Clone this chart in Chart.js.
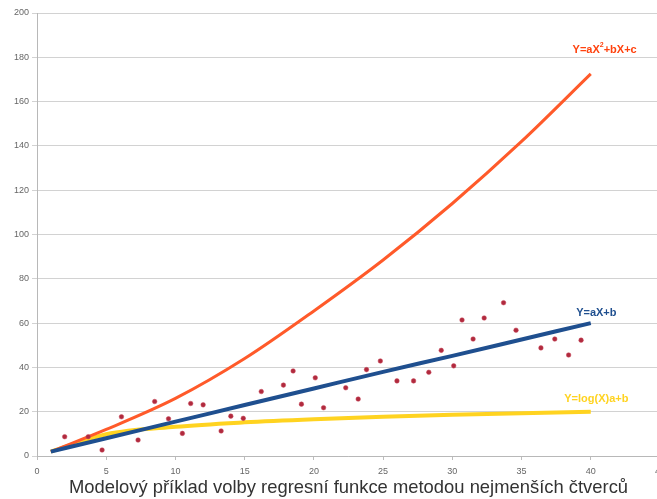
<!DOCTYPE html>
<html>
<head>
<meta charset="utf-8">
<script src="https://cdn.jsdelivr.net/npm/chart.js@4.4.1/dist/chart.umd.min.js"></script>
<style>
  html, body { margin: 0; padding: 0; background: #ffffff; overflow: hidden; }
  #wrap { width: 671px; height: 499px; }
</style>
</head>
<body>
<div id="wrap"><canvas id="c" width="671" height="499"></canvas></div>
<script>
// ---- data ----
const curveX = [1, 5, 10, 15, 20, 25, 30, 35, 40];
const quadY  = [2, 12, 26, 44, 65.5, 88.5, 114, 142, 172.5];   // Y=aX^2+bX+c (orange)
const linY   = [2, 8, 15.5, 23, 30.5, 38, 45.2, 52.6, 60];       // Y=aX+b (blue)
const logY   = [2, 9.8, 13.2, 15.2, 16.6, 17.7, 18.6, 19.3, 20];  // Y=log(X)a+b (yellow)

const pointsX = [2.0, 3.7, 4.7, 6.1, 7.3, 8.5, 9.5, 10.5, 11.1, 12.0, 13.3, 14.0, 14.9,
                 16.2, 17.8, 18.5, 19.1, 20.1, 20.7, 22.3, 23.2, 23.8, 24.8, 26.0, 27.2,
                 28.3, 29.2, 30.1, 30.7, 31.5, 32.3, 33.7, 34.6, 36.4, 37.4, 38.4, 39.3];
const pointsY = [8.7, 8.7, 2.7, 17.7, 7.2, 24.6, 16.8, 10.2, 23.7, 23.1, 11.3, 18, 17,
                 29.1, 32, 38.4, 23.4, 35.3, 21.8, 30.8, 25.7, 39, 42.9, 33.9, 33.9,
                 37.8, 47.7, 40.7, 61.4, 52.8, 62.3, 69.2, 56.8, 48.8, 52.8, 45.6, 52.3];

const xTickStep = 5, xMin = 0, xMax = 45;
const yTickStep = 20, yMin = 0, yMax = 200;

const labelTexts = ['Y=aX|2|+bX+c', 'Y=aX+b', 'Y=log(X)a+b'];
const labelX     = [41, 40.4, 40.4];
const labelY     = [183.3, 64.6, 25.7];
const labelColors = ['#ff420e', '#1f4f8f', '#ffd320'];

const axisTitle = 'Modelový příklad volby regresní funkce metodou nejmenších čtverců';

// ---- build datasets ----
function pairs(xs, ys) { return xs.map((x, i) => ({ x: x, y: ys[i] })); }

const labelPlugin = {
  id: 'curveLabels',
  afterDatasetsDraw(chart) {
    const ctx = chart.ctx;
    const xs = chart.scales.x, ys = chart.scales.y;
    ctx.save();
    ctx.textBaseline = 'middle';
    labelTexts.forEach((t, i) => {
      const parts = t.split('|');
      const font = 'bold 11px "Liberation Sans", Arial, sans-serif';
      const supFont = 'bold 7px "Liberation Sans", Arial, sans-serif';
      let total = 0;
      parts.forEach((p, k) => { ctx.font = (k % 2 === 1) ? supFont : font; total += ctx.measureText(p).width; });
      let cx = xs.getPixelForValue(labelX[i]) - total / 2;
      const cy = ys.getPixelForValue(labelY[i]);
      ctx.fillStyle = labelColors[i];
      parts.forEach((p, k) => {
        const sup = (k % 2 === 1);
        ctx.font = sup ? supFont : font;
        ctx.textAlign = 'left';
        ctx.fillText(p, cx, sup ? cy - 5 : cy);
        cx += ctx.measureText(p).width;
      });
    });
    ctx.restore();
  }
};

new Chart(document.getElementById('c'), {
  type: 'scatter',
  data: {
    datasets: [
      { label: 'data', data: pairs(pointsX, pointsY), showLine: false,
        pointRadius: 2.3, pointBackgroundColor: '#b02a3e', pointBorderColor: '#c8485a',
        pointBorderWidth: 0.5, order: 0 },
      { label: 'lin', data: pairs(curveX, linY), showLine: true, pointRadius: 0,
        borderColor: '#1f4f8f', borderWidth: 4, cubicInterpolationMode: 'monotone', order: 1 },
      { label: 'quad', data: pairs(curveX, quadY), showLine: true, pointRadius: 0,
        borderColor: '#ff5a2a', borderWidth: 3, cubicInterpolationMode: 'monotone', order: 2 },
      { label: 'log', data: pairs(curveX, logY), showLine: true, pointRadius: 0,
        borderColor: '#ffd320', borderWidth: 4, cubicInterpolationMode: 'monotone', order: 3 }
    ]
  },
  options: {
    responsive: false,
    animation: false,
    layout: { padding: { top: 13, left: 0, right: 0, bottom: 0 } },
    plugins: { legend: { display: false }, tooltip: { enabled: false } },
    scales: {
      x: {
        type: 'linear', min: xMin, max: xMax,
        ticks: { stepSize: xTickStep, color: '#666', font: { size: 9, family: '"Liberation Sans", Arial' }, padding: 6, maxRotation: 0 },
        grid: { display: true, drawOnChartArea: false, tickLength: 4, color: '#bdbdbd' },
        border: { color: '#b8b8b8' },
        title: { display: true, text: axisTitle, color: '#333', font: { size: 18.4, family: '"Liberation Sans", Arial' }, padding: { top: 0, bottom: 0 } },
        afterFit(s) { s.height = 43; }
      },
      y: {
        type: 'linear', min: yMin, max: yMax,
        ticks: { stepSize: yTickStep, color: '#666', font: { size: 9, family: '"Liberation Sans", Arial' }, padding: 3 },
        grid: { color: '#d2d2d2', tickLength: 5 },
        border: { color: '#b8b8b8' },
        afterFit(s) { s.width = 37; }
      }
    }
  },
  plugins: [labelPlugin]
});
</script>
</body>
</html>
